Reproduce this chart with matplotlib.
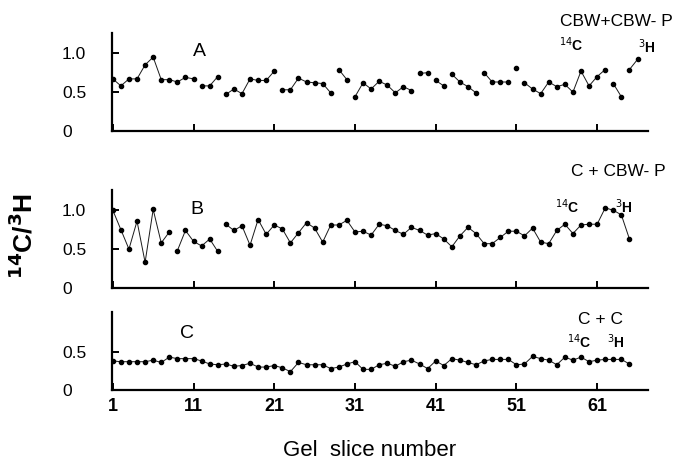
import numpy as np
import matplotlib.pyplot as plt

plt.rcParams['font.family'] = ['Liberation Sans', 'DejaVu Sans']

# 14C/3H ratio per gel slice
slices_a = np.arange(1, 67)
ratio_a = [0.67, 0.58, 0.67, 0.67, 0.85, 0.95, 0.66, 0.66, 0.63, 0.69,
           0.67, 0.58, 0.58, 0.70, 0.47, 0.54, 0.48, 0.67, 0.65, 0.65,
           0.77, 0.53, 0.53, 0.68, 0.63, 0.62, 0.61, 0.49, 0.79, 0.66,
           0.44, 0.62, 0.54, 0.64, 0.59, 0.49, 0.57, 0.52, 0.74, 0.75,
           0.65, 0.58, 0.73, 0.63, 0.57, 0.49, 0.75, 0.63, 0.63, 0.63,
           0.81, 0.62, 0.54, 0.48, 0.63, 0.57, 0.60, 0.50, 0.77, 0.58,
           0.70, 0.79, 0.61, 0.44, 0.79, 0.92]
breaks_a = [11, 14, 21, 28, 30, 38, 40, 42, 46, 50, 51, 62, 64]

slices_b = np.arange(1, 66)
ratio_b = [1.00, 0.75, 0.50, 0.86, 0.33, 1.01, 0.58, 0.72, 0.48, 0.74,
           0.60, 0.54, 0.63, 0.47, 0.82, 0.74, 0.80, 0.55, 0.88, 0.69,
           0.81, 0.76, 0.58, 0.71, 0.84, 0.77, 0.59, 0.81, 0.81, 0.87,
           0.72, 0.73, 0.68, 0.82, 0.80, 0.74, 0.69, 0.78, 0.74, 0.68,
           0.70, 0.63, 0.53, 0.67, 0.78, 0.70, 0.57, 0.57, 0.65, 0.73,
           0.73, 0.67, 0.77, 0.59, 0.57, 0.74, 0.82, 0.70, 0.81, 0.82,
           0.82, 1.03, 1.00, 0.94, 0.63]
breaks_b = [8, 14]

slices_c = np.arange(1, 66)
ratio_c = [0.38, 0.37, 0.37, 0.37, 0.37, 0.39, 0.36, 0.43, 0.41, 0.41,
           0.41, 0.38, 0.34, 0.33, 0.34, 0.31, 0.32, 0.35, 0.30, 0.30,
           0.32, 0.29, 0.24, 0.36, 0.33, 0.33, 0.33, 0.28, 0.30, 0.34,
           0.37, 0.27, 0.27, 0.33, 0.35, 0.31, 0.37, 0.39, 0.34, 0.28,
           0.38, 0.32, 0.41, 0.39, 0.36, 0.33, 0.38, 0.40, 0.40, 0.40,
           0.33, 0.34, 0.44, 0.41, 0.39, 0.33, 0.43, 0.39, 0.43, 0.37,
           0.39, 0.40, 0.40, 0.40, 0.34]
breaks_c = []

xticks = [1, 11, 21, 31, 41, 51, 61]

W, H = 677, 466


def px(x, y):
    # figure pixel -> figure fraction
    return x / W, 1 - y / H


def draw_panel(ax, slices, ratio, breaks, ylim, yticks, yticklabels):
    slices = np.asarray(slices)
    ratio = np.asarray(ratio)
    cut = [int(np.where(slices == b)[0][0]) + 1 for b in breaks]
    for xs, ys in zip(np.split(slices, cut), np.split(ratio, cut)):
        ax.plot(xs, ys, color='#1a1a1a', lw=0.7)
    ax.plot(slices, ratio, 'o', color='black', ms=3.0)
    ax.set_xlim(0.9, 67.3)
    ax.set_ylim(*ylim)
    ax.set_xticks(xticks)
    ax.set_yticks(yticks)
    ax.set_yticklabels(yticklabels, fontsize=12.5)
    for lab in ax.get_yticklabels():
        lab.set_horizontalalignment('left')
    ax.spines['top'].set_visible(False)
    ax.spines['right'].set_visible(False)
    ax.spines['left'].set_linewidth(1.6)
    ax.spines['bottom'].set_linewidth(1.6)
    ax.tick_params(direction='in', length=5, width=1.4, pad=6)
    ax.tick_params(axis='y', pad=36)


fig = plt.figure(figsize=(W / 100, H / 100), dpi=100)

left, width = 112 / W, (648 - 112) / W
ax_a = fig.add_axes([left, 1 - 131 / H, width, 98 / H])
ax_b = fig.add_axes([left, 1 - 288 / H, width, 98 / H])
ax_c = fig.add_axes([left, 1 - 390 / H, width, 78 / H])

draw_panel(ax_a, slices_a, ratio_a, breaks_a, (0, 1.26),
           [0, 0.5, 1.0], ['0', '0.5', '1.0'])
draw_panel(ax_b, slices_b, ratio_b, breaks_b, (0, 1.26),
           [0, 0.5, 1.0], ['0', '0.5', '1.0'])
draw_panel(ax_c, slices_c, ratio_c, breaks_c, (0, 1.02),
           [0, 0.5], ['0', '0.5'])

ax_a.set_xticklabels([])
ax_b.set_xticklabels([])
ax_c.set_xticklabels([str(t) for t in xticks], fontsize=13, fontweight='bold')

# panel letters
fig.text(*px(199, 51), 'A', fontsize=14, ha='center', va='center')
fig.text(*px(197, 209), 'B', fontsize=14, ha='center', va='center')
fig.text(*px(187, 334), 'C', fontsize=14, ha='center', va='center')

# labels of the labelled pairs
pairs = [('CBW+CBW- P', (616, 22), (571, 45), (647, 47)),
         ('C + CBW- P', (618, 171), (567, 207), (624, 207)),
         ('C + C', (601, 320), (579, 342), (616, 342))]
for name, pos_name, pos_c, pos_h in pairs:
    fig.text(*px(*pos_name), name, fontsize=12.5, ha='center', va='center')
    fig.text(*px(*pos_c), r'$^{14}$C', fontsize=10, fontweight='bold',
             ha='center', va='center')
    fig.text(*px(*pos_h), r'$^{3}$H', fontsize=10, fontweight='bold',
             ha='center', va='center')

fig.text(*px(23, 236), r'$^{\mathbf{14}}$C/$^{\mathbf{3}}$H', rotation=90,
         fontsize=19, fontweight='bold', ha='center', va='center')
fig.text(*px(370, 451), 'Gel  slice number', fontsize=16,
         ha='center', va='center')

fig.savefig('out.png', dpi=100)
